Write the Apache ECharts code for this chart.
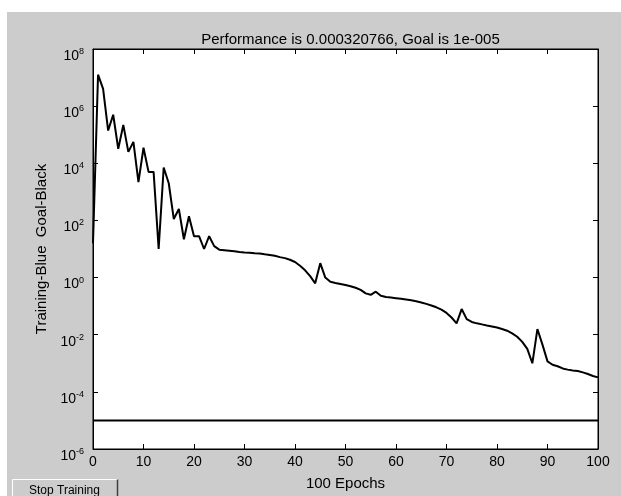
<!DOCTYPE html>
<html>
<head>
<meta charset="utf-8">
<script src="https://cdn.jsdelivr.net/npm/echarts@6/dist/echarts.min.js"></script>
<style>
html,body{margin:0;padding:0;background:#ffffff;}
#chart{width:621px;height:496px;}
</style>
</head>
<body>
<div id="chart"></div>
<script>
var titleText = 'Performance is 0.000320766, Goal is 1e-005';
var xName = '100 Epochs';
var yName = 'Training-Blue  Goal-Black';
var buttonText = 'Stop Training';

var epochs = [];
for (var i = 0; i <= 100; i++) epochs.push(i);

var performance = [
  15.8, 1.26e7, 4.0e6, 1.4e5, 5.0e5, 3.2e4, 2.2e5, 2.5e4, 5.6e4, 2.2e3,
  3.5e4, 5.0e3, 5.0e3, 10, 7.1e3, 2.0e3, 112, 251, 22, 141,
  28, 28, 10, 28, 12.6, 9.5, 9.1, 8.7, 8.3, 7.9,
  7.6, 7.4, 7.1, 6.9, 6.5, 6.2, 5.8, 5.2, 4.8, 4.2,
  3.5, 2.6, 1.8, 1.12, 0.63, 3.2, 1.0, 0.71, 0.65, 0.60,
  0.55, 0.50, 0.44, 0.37, 0.28, 0.25, 0.32, 0.23, 0.21, 0.20,
  0.19, 0.18, 0.17, 0.16, 0.148, 0.135, 0.12, 0.105, 0.091, 0.076,
  0.058, 0.040, 0.025, 0.079, 0.035, 0.028, 0.025, 0.023, 0.021, 0.0195,
  0.0178, 0.0158, 0.0138, 0.0112, 0.0085, 0.0056, 0.0032, 0.0010, 0.0158, 0.0045,
  0.00117, 0.00089, 0.00079, 0.00066, 0.00060, 0.00056, 0.00054, 0.00048, 0.00042, 0.00036,
  0.000320766
];

var goalEpochs = [0, 100];
var goalValues = [1e-5, 1e-5];

var perfData = epochs.map(function (e, i) { return [e, performance[i]]; });
var goalData = goalEpochs.map(function (e, i) { return [e, goalValues[i]]; });

var FONT = 'Liberation Sans';
var chart = echarts.init(document.getElementById('chart'), null, {renderer: 'canvas'});

var option = {
  animation: false,
  backgroundColor: '#ffffff',
  textStyle: {fontFamily: FONT, color: '#000'},
  graphic: [
    {type: 'rect', z: -10, shape: {x: 7, y: 12, width: 614, height: 484}, style: {fill: '#cccccc'}},
    {type: 'group', left: 12, top: 477, children: [
      {type: 'rect', shape: {x: 0, y: 0, width: 105, height: 19}, style: {fill: '#cccccc', stroke: '#ffffff', lineWidth: 1}},
      {type: 'line', shape: {x1: 105, y1: 0, x2: 105, y2: 19}, style: {stroke: '#404040', lineWidth: 1.5}},
      {type: 'text', style: {x: 52, y: 11, text: buttonText, fill: '#000', font: '12px ' + FONT, textAlign: 'center', textVerticalAlign: 'middle'}}
    ]}
  ],
  title: {
    text: titleText, left: 345.5, top: 27, textAlign: 'center',
    textStyle: {fontFamily: FONT, fontSize: 15, fontWeight: 'normal', color: '#000'}
  },
  grid: {left: 93, right: 23, top: 49, bottom: 46, containLabel: false,
    show: true, backgroundColor: '#ffffff', borderColor: '#000000', borderWidth: 1},
  xAxis: [{
    type: 'value', min: 0, max: 100, interval: 10, position: 'bottom',
    name: xName, nameLocation: 'middle', nameGap: 27,
    nameTextStyle: {fontFamily: FONT, fontSize: 15, color: '#000'},
    axisLine: {show: true, onZero: false, lineStyle: {color: '#000', width: 1}},
    axisTick: {show: true, inside: true, length: 5, lineStyle: {color: '#000'}},
    axisLabel: {show: true, margin: 6, fontFamily: FONT, fontSize: 14, color: '#000'},
    splitLine: {show: false}
  }, {
    type: 'value', min: 0, max: 100, interval: 10, position: 'top',
    axisLine: {show: true, onZero: false, lineStyle: {color: '#000', width: 1}},
    axisTick: {show: true, inside: true, length: 5, lineStyle: {color: '#000'}},
    axisLabel: {show: false}, splitLine: {show: false}
  }],
  yAxis: [{
    type: 'log', logBase: 10, min: 1e-6, max: 1e8, interval: 2, position: 'left',
    name: yName, nameLocation: 'middle', nameGap: 38,
    nameTextStyle: {fontFamily: FONT, fontSize: 15, color: '#000'},
    axisLine: {show: true, onZero: false, lineStyle: {color: '#000', width: 1}},
    axisTick: {show: true, inside: true, length: 5, lineStyle: {color: '#000'}},
    minorTick: {show: false},
    axisLabel: {
      show: true, margin: 9, color: '#000',
      padding: [12, 0, 0, 0],
      formatter: function (v) {
        var e = Math.round(Math.log(v) / Math.LN10);
        return '{b|10}{s|' + e + '}';
      },
      rich: {
        b: {fontFamily: FONT, fontSize: 14, lineHeight: 16, color: '#000', verticalAlign: 'bottom'},
        s: {fontFamily: FONT, fontSize: 9, lineHeight: 9, color: '#000', verticalAlign: 'top'}
      }
    },
    splitLine: {show: false}
  }, {
    type: 'log', logBase: 10, min: 1e-6, max: 1e8, interval: 2, position: 'right',
    axisLine: {show: true, onZero: false, lineStyle: {color: '#000', width: 1}},
    axisTick: {show: true, inside: true, length: 5, lineStyle: {color: '#000'}},
    axisLabel: {show: false}, splitLine: {show: false}
  }],
  series: [{
    type: 'line', xAxisIndex: 0, yAxisIndex: 0, data: perfData,
    showSymbol: false, symbol: 'none', lineStyle: {color: '#000', width: 2}
  }, {
    type: 'line', xAxisIndex: 0, yAxisIndex: 0, data: goalData,
    showSymbol: false, symbol: 'none', lineStyle: {color: '#000', width: 2}
  }]
};
chart.setOption(option);
</script>
</body>
</html>
